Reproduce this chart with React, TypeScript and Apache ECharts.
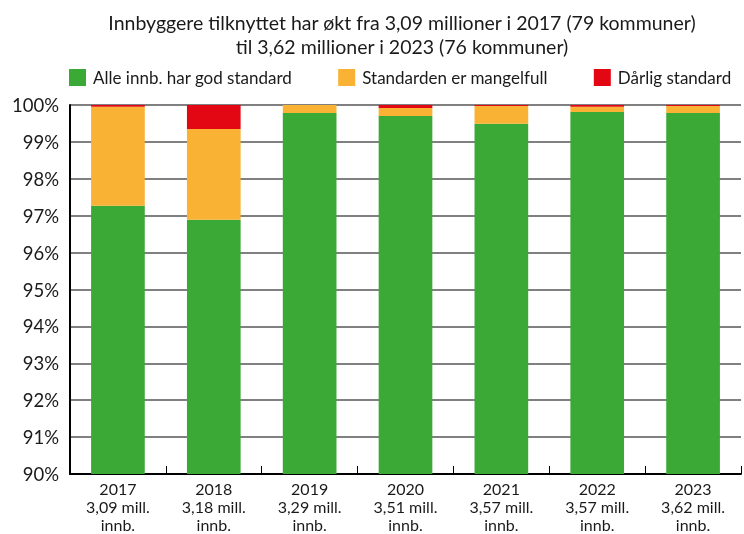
import React, { useEffect, useRef } from "react";
import * as echarts from "echarts";

const categories = ["2017", "2018", "2019", "2020", "2021", "2022", "2023"];
const population = ["3,09", "3,18", "3,29", "3,51", "3,57", "3,57", "3,62"];
const goodStandard = [97.27, 96.89, 99.78, 99.7, 99.49, 99.81, 99.78];
const deficient = [2.68, 2.46, 0.22, 0.22, 0.48, 0.14, 0.19];
const poor = [0.05, 0.65, 0.0, 0.08, 0.03, 0.05, 0.03];
const seriesNames = ["Alle innb. har god standard", "Standarden er mangelfull", "Dårlig standard"];
const colors = ["#3aa935", "#f9b233", "#e30613"];
const titleLines = [
  "Innbyggere tilknyttet har økt fra 3,09 millioner i 2017 (79 kommuner)",
  "til 3,62 millioner i 2023 (76 kommuner)",
];

const FONT = "Lato";

export default function App() {
  const ref = useRef<HTMLDivElement>(null);
  useEffect(() => {
    if (!ref.current) return;
    const chart = echarts.init(ref.current, null, { renderer: "svg" });
    const values = [goodStandard, deficient, poor];
    chart.setOption({
      animation: false,
      textStyle: { fontFamily: FONT, color: "#1a1a1a" },
      title: {
        text: titleLines.join("\n"),
        left: 397,
        top: 5,
        textAlign: "center",
        textStyle: { fontFamily: FONT, fontSize: 19.5, fontWeight: "normal", lineHeight: 24, color: "#1a1a1a" },
      },
      legend: {
        top: 64,
        left: 64,
        icon: "rect",
        itemWidth: 17,
        itemHeight: 17,
        itemGap: 46,
        textStyle: { fontFamily: FONT, fontSize: 17, color: "#1a1a1a", padding: [0, 0, 0, 2] },
        data: seriesNames,
      },
      grid: { left: 70, right: 3, top: 105, bottom: 60 },
      xAxis: {
        type: "category",
        data: categories,
        axisLine: { lineStyle: { color: "#000", width: 2 } },
        axisTick: { show: true, inside: true, length: 8, lineStyle: { color: "#000", width: 1 } },
        axisLabel: {
          fontFamily: FONT,
          fontSize: 16,
          color: "#1a1a1a",
          lineHeight: 18,
          margin: 5,
          formatter: (v: string, i: number) => `${v}\n${population[i]} mill.\ninnb.`,
        },
      },
      yAxis: {
        type: "value",
        min: 90,
        max: 100,
        interval: 1,
        axisLine: { show: true, lineStyle: { color: "#000", width: 2 } },
        axisTick: { show: false },
        splitLine: { lineStyle: { color: "#808080", width: 2 } },
        axisLabel: { fontFamily: FONT, fontSize: 18.5, color: "#1a1a1a", margin: 11, formatter: (v: number) => `${v}%` },
      },
      series: seriesNames.map((name, i) => ({
        name,
        type: "bar",
        stack: "total",
        barWidth: "56%",
        itemStyle: { color: colors[i] },
        data: values[i],
      })),
    });
    return () => chart.dispose();
  }, []);
  return <div ref={ref} style={{ position: "fixed", left: 0, top: 0, width: 744, height: 534 }} />;
}
